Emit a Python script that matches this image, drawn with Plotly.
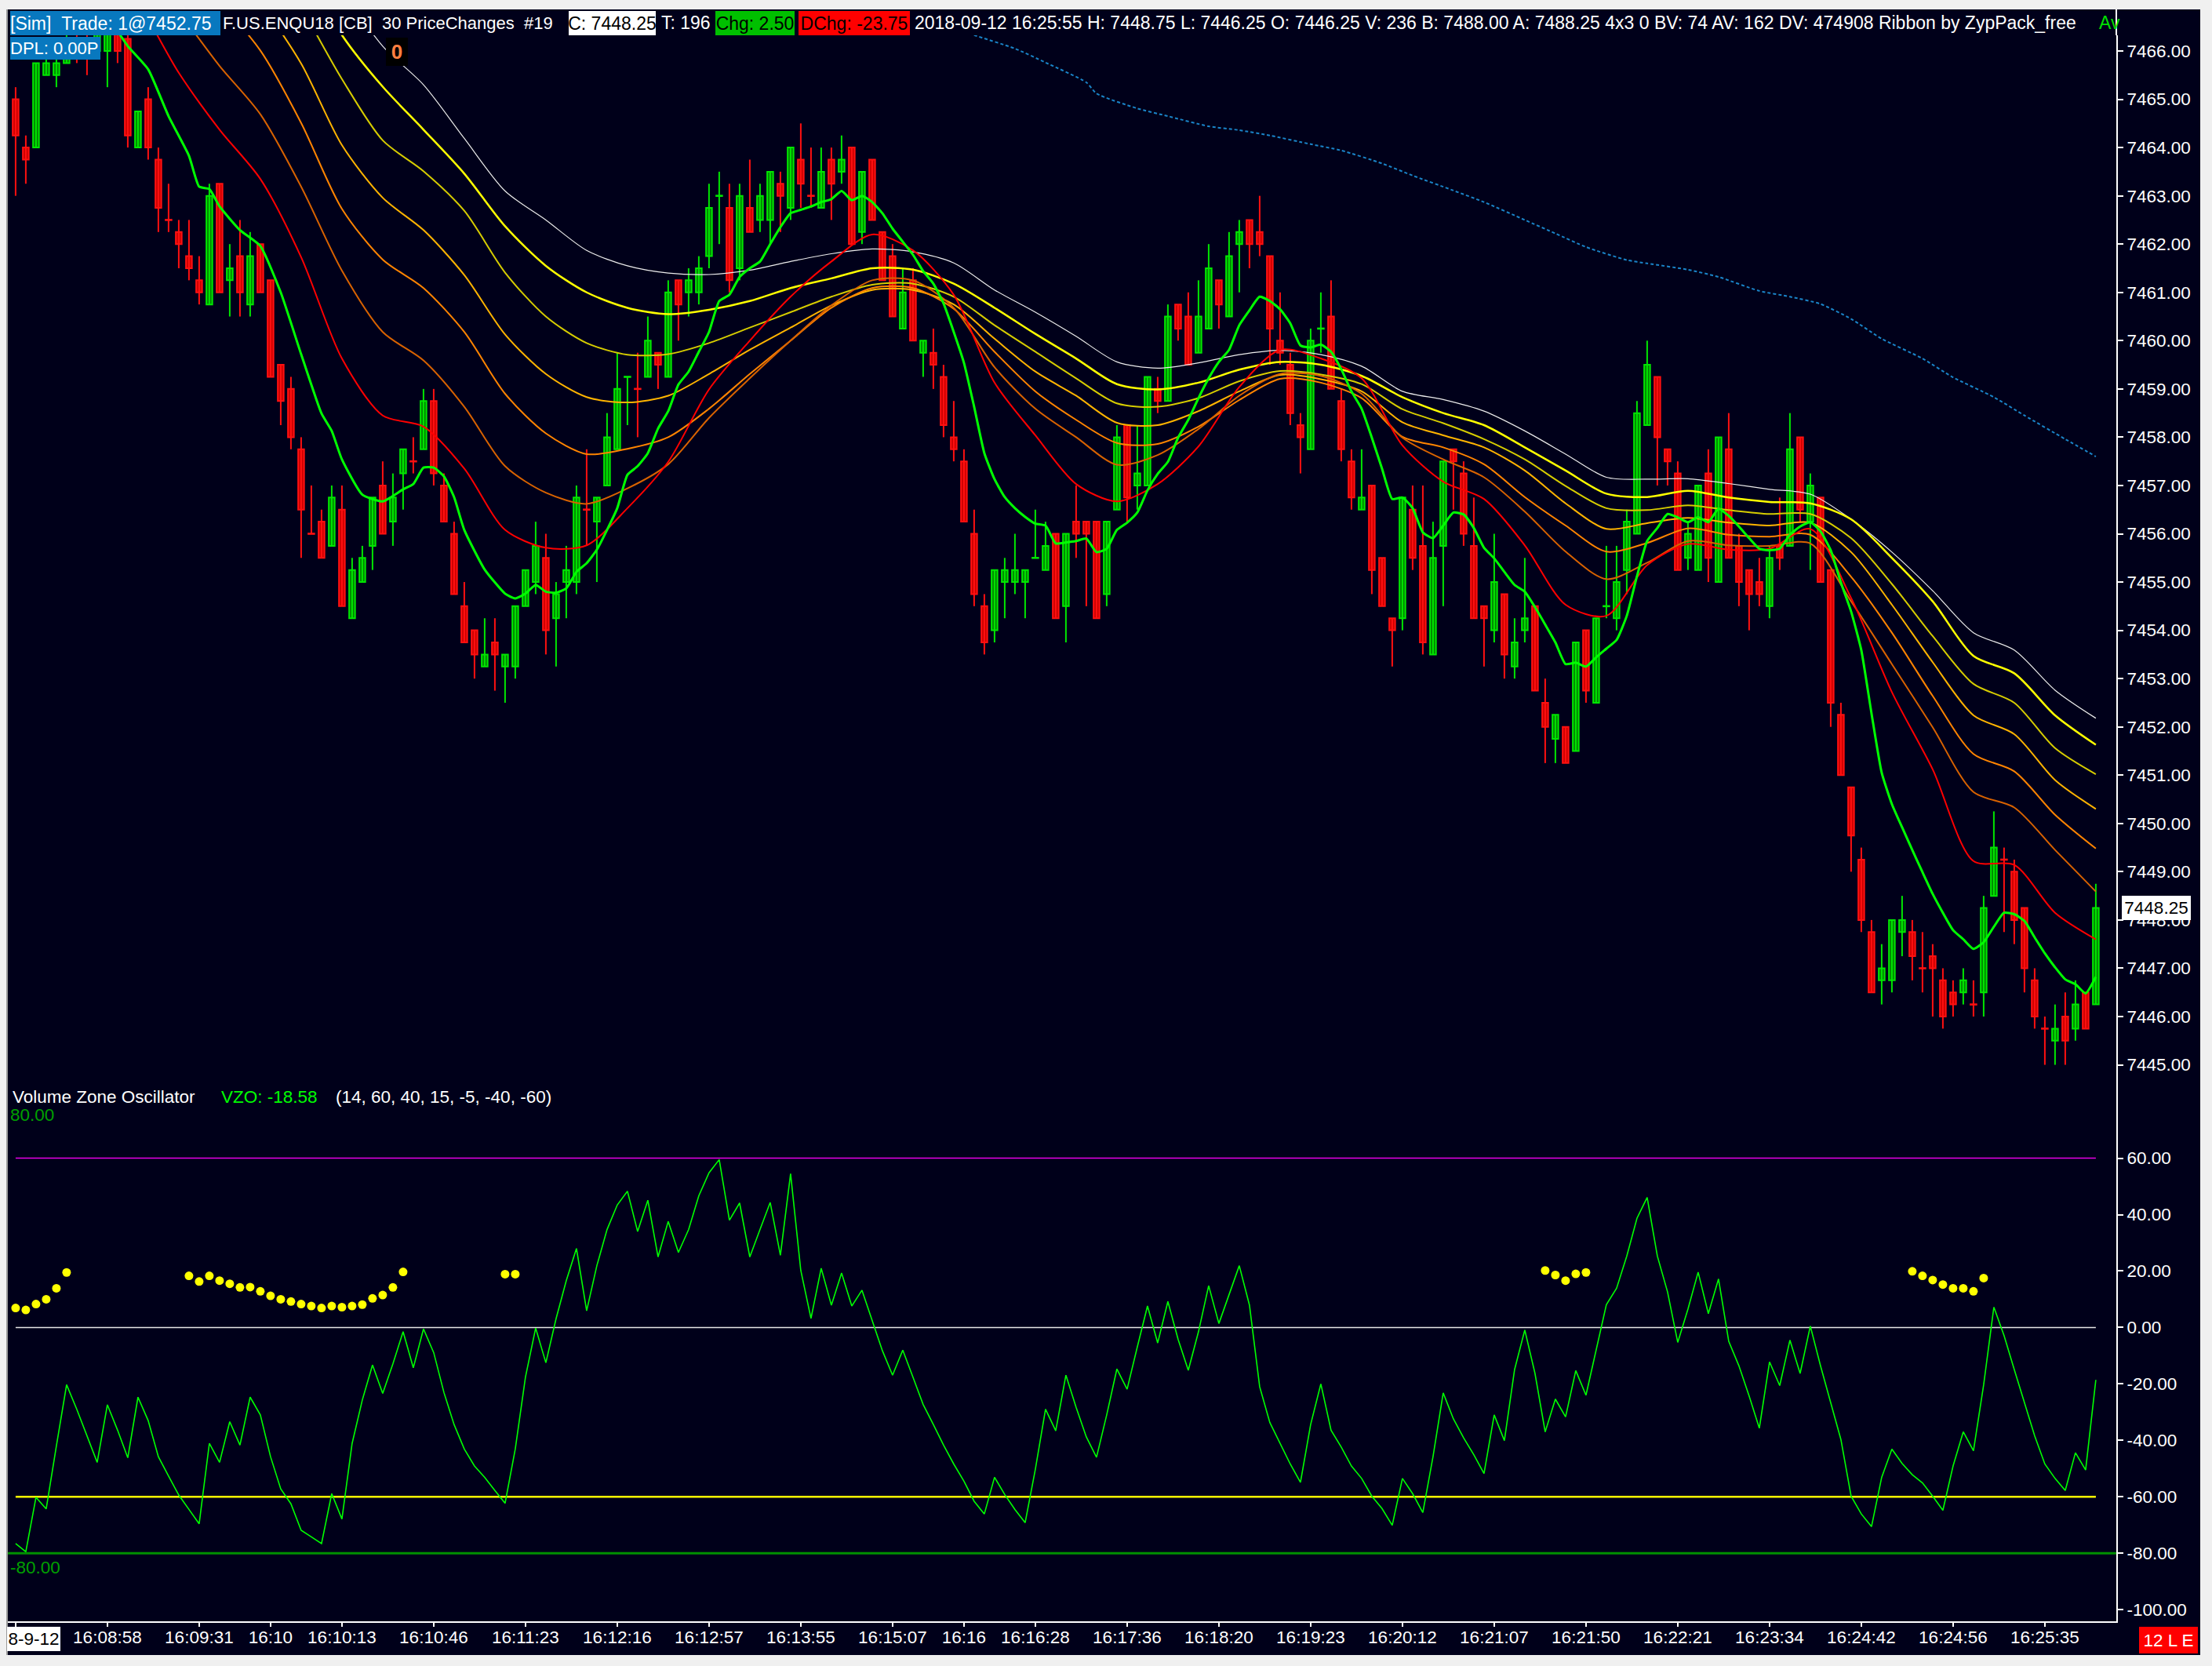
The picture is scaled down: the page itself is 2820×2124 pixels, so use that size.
import plotly.graph_objects as go

FONT = "Liberation Sans, Arial, sans-serif"
NAVY = "#00001a"

# ---------------- price bars (index 0..204) ----------------
opens = [7465.0, 7464.0, 7464.0, 7465.5, 7465.5, 7465.75, 7466.25, 7466.25, 7466.0, 7466.0,
         7466.5, 7466.25, 7464.0, 7465.0, 7463.75, 7462.5, 7462.25, 7461.75, 7461.25, 7460.75,
         7463.25, 7461.25, 7461.75, 7460.75, 7462.0, 7461.25, 7459.5, 7459.0, 7457.75, 7456.0,
         7456.25, 7455.75, 7456.5, 7454.25, 7455.0, 7455.75, 7457.0, 7456.25, 7457.25, 7457.5,
         7457.75, 7458.75, 7457.0, 7456.0, 7454.5, 7454.0, 7453.25, 7453.75, 7453.25, 7453.25,
         7454.5, 7455.0, 7455.5, 7454.25, 7455.0, 7455.0, 7456.5, 7456.25, 7457.0, 7457.75,
         7459.25, 7459.0, 7459.25, 7459.75, 7459.25, 7461.25, 7461.0, 7461.0, 7461.75, 7463.0,
         7462.75, 7461.5, 7462.75, 7462.5, 7462.5, 7463.25, 7462.75, 7463.75, 7463.0, 7462.75,
         7463.75, 7463.5, 7464.0, 7462.25, 7463.75, 7462.25, 7461.75, 7460.25, 7461.25, 7459.75,
         7459.75, 7459.25, 7458.0, 7457.5, 7456.0, 7454.5, 7454.0, 7455.0, 7455.0, 7455.0,
         7455.5, 7455.25, 7456.0, 7454.5, 7456.25, 7456.25, 7456.25, 7454.75, 7456.5, 7458.25,
         7457.0, 7457.0, 7459.0, 7458.75, 7460.75, 7460.5, 7459.75, 7460.25, 7461.25, 7460.5,
         7462.0, 7462.5, 7462.25, 7461.75, 7460.0, 7459.5, 7458.25, 7457.75, 7460.25, 7460.5,
         7458.75, 7457.5, 7456.5, 7457.0, 7455.5, 7454.25, 7454.25, 7456.5, 7455.75, 7453.5,
         7455.75, 7457.75, 7457.25, 7455.75, 7454.5, 7454.0, 7454.75, 7453.25, 7454.0, 7454.5,
         7452.5, 7451.75, 7452.0, 7451.5, 7454.0, 7452.5, 7454.5, 7454.25, 7455.25, 7456.0,
         7458.25, 7459.25, 7457.75, 7457.25, 7455.5, 7455.25, 7457.25, 7455.0, 7457.75, 7455.75,
         7455.25, 7455.0, 7454.5, 7455.75, 7455.75, 7458.0, 7456.25, 7456.75, 7455.25, 7452.25,
         7450.75, 7449.25, 7447.75, 7446.75, 7446.75, 7447.75, 7447.75, 7447.0, 7447.25, 7446.75,
         7446.5, 7446.5, 7446.25, 7446.5, 7448.5, 7449.25, 7449.0, 7448.25, 7446.75, 7445.75,
         7445.5, 7446.0, 7445.75, 7446.5, 7446.25]
highs = [7465.25, 7464.25, 7465.75, 7466.25, 7466.0, 7466.5, 7466.5, 7466.5, 7466.75, 7466.75,
         7466.75, 7466.5, 7464.75, 7465.25, 7464.0, 7463.25, 7462.5, 7462.5, 7461.75, 7463.25,
         7463.25, 7462.0, 7462.5, 7462.25, 7462.0, 7461.25, 7459.5, 7459.25, 7458.0, 7457.0,
         7456.5, 7457.0, 7457.0, 7455.5, 7455.75, 7456.75, 7457.5, 7457.25, 7457.75, 7458.0,
         7459.0, 7459.0, 7457.25, 7456.25, 7455.0, 7454.0, 7454.25, 7454.25, 7453.5, 7454.5,
         7455.25, 7456.25, 7456.0, 7455.0, 7455.75, 7457.0, 7457.75, 7456.75, 7458.5, 7459.75,
         7459.25, 7459.75, 7460.5, 7459.75, 7461.25, 7461.25, 7461.5, 7461.75, 7463.25, 7463.5,
         7463.25, 7463.25, 7463.75, 7463.25, 7463.5, 7463.5, 7464.0, 7464.5, 7464.0, 7464.0,
         7464.0, 7464.25, 7464.0, 7463.5, 7463.75, 7462.25, 7462.0, 7461.5, 7461.5, 7460.0,
         7460.25, 7459.5, 7458.75, 7457.75, 7456.5, 7454.75, 7455.25, 7455.5, 7456.0, 7455.25,
         7456.5, 7456.25, 7456.0, 7456.0, 7457.0, 7456.25, 7456.25, 7456.25, 7458.25, 7458.25,
         7458.25, 7459.25, 7459.25, 7460.75, 7460.75, 7461.0, 7461.25, 7462.0, 7461.25, 7462.25,
         7462.5, 7462.5, 7463.0, 7461.75, 7461.0, 7459.75, 7458.5, 7460.25, 7461.0, 7461.25,
         7459.0, 7457.75, 7457.75, 7457.0, 7455.5, 7454.25, 7456.75, 7457.0, 7457.0, 7456.25,
         7457.5, 7457.75, 7457.5, 7456.75, 7454.5, 7456.0, 7454.75, 7454.25, 7455.5, 7454.5,
         7453.0, 7452.25, 7452.0, 7453.75, 7454.0, 7454.25, 7455.75, 7455.75, 7456.5, 7458.75,
         7460.0, 7459.25, 7457.75, 7457.5, 7456.25, 7457.0, 7457.75, 7458.0, 7458.5, 7456.0,
         7455.25, 7455.5, 7455.75, 7456.75, 7458.5, 7458.0, 7457.25, 7456.75, 7455.25, 7452.5,
         7450.75, 7449.5, 7448.0, 7447.5, 7448.0, 7448.5, 7448.0, 7447.75, 7447.5, 7447.0,
         7446.75, 7447.0, 7446.75, 7448.5, 7450.25, 7449.5, 7449.25, 7448.25, 7447.0, 7446.0,
         7446.25, 7446.5, 7446.75, 7446.5, 7448.75]
lows = [7463.0, 7463.25, 7464.0, 7465.5, 7465.25, 7465.75, 7465.75, 7465.5, 7466.0, 7465.25,
        7465.75, 7464.0, 7464.0, 7463.75, 7462.25, 7462.25, 7461.5, 7461.25, 7460.75, 7460.75,
        7461.0, 7460.5, 7460.5, 7460.5, 7461.0, 7459.25, 7458.25, 7457.75, 7455.5, 7456.0,
        7455.5, 7455.75, 7454.5, 7454.25, 7455.0, 7455.25, 7456.0, 7455.75, 7456.5, 7457.25,
        7457.75, 7457.0, 7456.25, 7454.75, 7453.75, 7453.0, 7453.25, 7452.75, 7452.5, 7453.0,
        7454.5, 7454.75, 7453.5, 7453.25, 7454.25, 7454.75, 7455.75, 7455.0, 7457.0, 7457.75,
        7458.25, 7458.0, 7459.25, 7459.0, 7459.25, 7460.0, 7460.5, 7460.75, 7461.5, 7462.0,
        7461.0, 7461.25, 7462.25, 7462.25, 7462.0, 7462.25, 7462.5, 7462.75, 7462.75, 7462.75,
        7462.5, 7463.25, 7462.0, 7462.0, 7462.5, 7461.25, 7460.5, 7460.25, 7460.0, 7459.25,
        7459.0, 7458.0, 7457.5, 7456.25, 7454.5, 7453.5, 7453.75, 7454.25, 7454.75, 7454.25,
        7455.5, 7455.25, 7454.25, 7453.75, 7455.5, 7454.5, 7454.25, 7454.5, 7456.5, 7456.25,
        7456.5, 7457.0, 7458.5, 7458.75, 7460.0, 7459.5, 7459.75, 7460.25, 7460.25, 7460.5,
        7461.0, 7461.5, 7461.75, 7459.5, 7459.5, 7458.25, 7457.25, 7457.75, 7459.75, 7459.0,
        7457.5, 7456.5, 7456.5, 7454.75, 7454.5, 7453.25, 7454.0, 7455.25, 7453.5, 7453.5,
        7454.5, 7456.5, 7455.75, 7454.25, 7453.25, 7453.75, 7453.0, 7453.0, 7453.75, 7452.75,
        7451.25, 7451.25, 7451.25, 7451.5, 7452.5, 7452.5, 7454.25, 7454.0, 7454.75, 7456.0,
        7458.25, 7457.0, 7457.0, 7455.25, 7455.25, 7455.25, 7455.0, 7455.0, 7455.5, 7454.5,
        7454.0, 7454.5, 7454.25, 7455.25, 7455.75, 7456.25, 7455.25, 7455.0, 7452.0, 7451.0,
        7449.0, 7447.75, 7446.5, 7446.25, 7446.5, 7447.25, 7446.75, 7446.5, 7446.0, 7445.75,
        7446.0, 7446.25, 7446.0, 7446.0, 7448.5, 7447.75, 7447.5, 7446.5, 7445.75, 7445.0,
        7445.0, 7445.0, 7445.5, 7445.75, 7446.25]
closes = [7464.25, 7463.75, 7465.75, 7465.75, 7465.75, 7466.25, 7466.0, 7466.0, 7466.5, 7466.5,
          7466.0, 7464.25, 7464.75, 7464.0, 7462.75, 7462.5, 7462.0, 7461.5, 7461.0, 7463.0,
          7461.0, 7461.5, 7461.0, 7461.75, 7461.0, 7459.25, 7458.75, 7458.0, 7456.5, 7456.0,
          7455.5, 7456.75, 7454.5, 7455.25, 7455.5, 7456.75, 7456.0, 7456.75, 7457.75, 7457.5,
          7458.75, 7457.25, 7456.25, 7454.75, 7453.75, 7453.5, 7453.5, 7453.5, 7453.5, 7454.5,
          7455.25, 7455.75, 7454.0, 7454.75, 7455.25, 7456.75, 7456.5, 7456.75, 7458.0, 7459.0,
          7459.25, 7459.0, 7460.0, 7459.5, 7461.0, 7460.75, 7461.25, 7461.5, 7462.75, 7463.0,
          7461.25, 7463.0, 7462.25, 7463.0, 7463.5, 7463.0, 7464.0, 7463.25, 7463.0, 7463.5,
          7463.25, 7463.75, 7462.0, 7463.5, 7462.5, 7461.25, 7460.5, 7461.0, 7460.0, 7460.0,
          7459.5, 7458.25, 7457.75, 7456.25, 7454.75, 7453.75, 7455.25, 7455.25, 7455.25, 7455.25,
          7455.5, 7455.75, 7454.25, 7456.0, 7456.0, 7456.0, 7454.25, 7456.25, 7458.0, 7456.75,
          7457.25, 7459.25, 7458.75, 7460.5, 7460.25, 7459.5, 7460.5, 7461.5, 7460.75, 7461.75,
          7462.25, 7462.0, 7462.0, 7460.25, 7459.75, 7458.5, 7458.0, 7460.0, 7460.25, 7459.0,
          7457.75, 7456.75, 7456.75, 7455.25, 7454.5, 7454.0, 7456.75, 7455.5, 7453.75, 7455.5,
          7457.5, 7457.5, 7456.0, 7454.25, 7454.25, 7455.0, 7453.5, 7453.75, 7454.25, 7452.75,
          7452.0, 7452.25, 7451.25, 7453.75, 7452.75, 7454.25, 7454.5, 7455.0, 7456.25, 7458.5,
          7459.5, 7458.0, 7457.5, 7455.25, 7456.0, 7457.0, 7455.5, 7458.0, 7455.5, 7455.0,
          7454.75, 7454.75, 7455.5, 7455.5, 7457.75, 7456.5, 7457.0, 7455.0, 7452.5, 7451.0,
          7449.75, 7448.0, 7446.5, 7447.0, 7448.0, 7448.0, 7447.25, 7447.0, 7447.0, 7446.0,
          7446.25, 7446.75, 7446.25, 7448.25, 7449.5, 7449.25, 7448.0, 7447.0, 7446.0, 7445.75,
          7445.75, 7445.5, 7446.25, 7445.75, 7448.25]
green_doji_bars = [60, 69, 100, 128, 156]

# ---------------- ribbon (moving averages), read every 4 bars ----------------
rib_bars = [0, 4, 8, 12, 16, 20, 24, 28, 32, 36, 40, 44, 48, 52, 56, 60, 64, 68, 72, 76,
            80, 84, 88, 92, 96, 100, 104, 108, 112, 116, 120, 124, 128, 132, 136, 140, 144,
            148, 152, 156, 160, 164, 168, 172, 176, 180, 184, 188, 192, 196, 200, 204]
ma_red = [7470.0, 7469.0, 7468.0, 7467.0, 7465.55, 7464.37, 7463.35, 7461.73, 7459.63, 7458.45,
          7458.22, 7457.35, 7456.08, 7455.71, 7455.76, 7456.53, 7457.49, 7458.99, 7460.0, 7460.91,
          7461.64, 7462.2, 7461.87, 7460.95, 7459.13, 7458.04, 7457.03, 7456.67, 7457.03, 7457.81,
          7459.04, 7459.81, 7459.63, 7459.22, 7457.83, 7457.08, 7456.72, 7455.76, 7454.53, 7454.3,
          7455.35, 7455.79, 7455.67, 7455.69, 7456.1, 7454.67, 7452.72, 7451.12, 7449.22, 7449.14,
          7448.15, 7447.6]
ma_darkorange = [7470.5, 7469.5, 7468.6, 7467.7, 7466.8, 7465.69, 7464.69, 7463.19, 7461.45, 7460.18,
                 7459.59, 7458.63, 7457.4, 7456.85, 7456.62, 7456.94, 7457.44, 7458.4, 7459.22, 7460.0,
                 7460.73, 7461.25, 7461.25, 7460.68, 7459.45, 7458.59, 7458.0, 7457.43, 7457.63, 7458.17,
                 7458.86, 7459.31, 7459.27, 7458.9, 7457.99, 7457.54, 7457.17, 7456.46, 7455.63, 7455.06,
                 7455.4, 7455.85, 7455.76, 7455.75, 7455.8, 7454.6, 7453.3, 7451.99, 7450.65, 7450.33,
                 7449.45, 7448.59]
ma_orange = [7471.0, 7470.2, 7469.4, 7468.6, 7467.8, 7467.0, 7466.01, 7464.51, 7462.73, 7461.68,
             7461.09, 7460.18, 7458.9, 7458.08, 7457.65, 7457.76, 7458.0, 7458.59, 7459.31, 7460.0,
             7460.68, 7461.09, 7461.09, 7460.66, 7459.77, 7458.95, 7458.36, 7457.88, 7457.86, 7458.22,
             7458.77, 7459.21, 7459.13, 7458.81, 7458.01, 7457.79, 7457.44, 7456.76, 7456.17, 7455.63,
             7455.81, 7456.11, 7455.98, 7455.94, 7455.98, 7455.11, 7453.95, 7452.64, 7451.44, 7451.08,
             7450.18, 7449.48]
ma_gold = [7472.0, 7471.2, 7470.4, 7469.6, 7468.8, 7468.0, 7467.0, 7465.74, 7464.05, 7462.96,
           7462.29, 7461.36, 7460.13, 7459.31, 7458.83, 7458.72, 7458.86, 7459.31, 7459.81, 7460.27,
           7460.73, 7461.05, 7461.05, 7460.75, 7460.04, 7459.36, 7458.86, 7458.3, 7458.25, 7458.54,
           7458.95, 7459.29, 7459.2, 7458.95, 7458.31, 7458.04, 7457.79, 7457.31, 7456.63, 7456.1,
           7456.22, 7456.33, 7456.23, 7456.17, 7456.23, 7455.62, 7454.53, 7453.34, 7452.24, 7451.85,
           7450.9, 7450.3]
ma_olive = [7473.0, 7472.2, 7471.4, 7470.6, 7469.8, 7469.0, 7468.2, 7466.9, 7465.42, 7464.15,
            7463.51, 7462.69, 7461.41, 7460.5, 7459.95, 7459.71, 7459.72, 7459.95, 7460.27, 7460.59,
            7460.91, 7461.16, 7461.18, 7460.91, 7460.32, 7459.77, 7459.22, 7458.7, 7458.63, 7458.81,
            7459.16, 7459.37, 7459.3, 7459.1, 7458.58, 7458.29, 7457.96, 7457.54, 7456.99, 7456.53,
            7456.49, 7456.59, 7456.49, 7456.41, 7456.41, 7455.91, 7454.96, 7453.88, 7452.89, 7452.5,
            7451.56, 7451.02]
ma_yellow = [7474.0, 7473.2, 7472.4, 7471.6, 7470.8, 7470.0, 7469.2, 7467.8, 7466.33, 7465.26,
             7464.37, 7463.46, 7462.37, 7461.55, 7461.0, 7460.68, 7460.55, 7460.64, 7460.82, 7461.09,
             7461.29, 7461.5, 7461.47, 7461.18, 7460.68, 7460.14, 7459.63, 7459.1, 7458.99, 7459.13,
             7459.4, 7459.56, 7459.5, 7459.27, 7458.83, 7458.5, 7458.25, 7457.79, 7457.31, 7456.83,
             7456.76, 7456.89, 7456.75, 7456.66, 7456.63, 7456.3, 7455.5, 7454.6, 7453.47, 7453.11,
             7452.24, 7451.63]
ma_white = [7475.0, 7474.2, 7473.4, 7472.6, 7471.8, 7471.0, 7470.0, 7468.8, 7467.3, 7466.1,
            7465.3, 7464.19, 7463.1, 7462.5, 7461.87, 7461.55, 7461.4, 7461.37, 7461.46, 7461.64,
            7461.8, 7461.9, 7461.84, 7461.61, 7461.05, 7460.59, 7460.09, 7459.56, 7459.43, 7459.54,
            7459.71, 7459.8, 7459.71, 7459.47, 7458.95, 7458.78, 7458.54, 7458.13, 7457.65, 7457.17,
            7457.13, 7457.14, 7457.04, 7456.92, 7456.82, 7456.3, 7455.62, 7454.82, 7453.95, 7453.59,
            7452.76, 7452.18]

fast_bars = [0, 5, 9, 10, 11, 13, 15, 17, 18, 19, 20, 22, 24, 26, 28, 30, 31, 32, 34, 36, 38, 39,
             40, 41, 42, 43, 44, 46, 48, 49, 50, 51, 52] + list(range(53, 205))
fast_vals = [7467.0, 7466.8, 7466.55, 7466.4, 7466.1, 7465.62, 7464.65, 7463.83, 7463.19, 7463.14,
             7462.78, 7462.29, 7461.96, 7461.0, 7459.72, 7458.49, 7458.13, 7457.54, 7456.81, 7456.67,
             7456.92, 7457.03, 7457.37, 7457.37, 7457.19, 7456.76, 7456.08, 7455.26, 7454.76, 7454.66,
             7454.76, 7454.94, 7454.8,
             7454.78, 7454.87, 7455.21, 7455.39, 7455.67, 7456.08, 7456.53, 7457.22, 7457.4, 7457.67,
             7458.18, 7458.54, 7459.09, 7459.36, 7459.77, 7460.18, 7460.82, 7460.95, 7461.32, 7461.5,
             7461.64, 7462.0, 7462.35, 7462.64, 7462.71, 7462.78, 7462.87, 7462.93, 7463.1, 7462.91,
             7463.0, 7462.87, 7462.64, 7462.32, 7462.05, 7461.78, 7461.44, 7461.18, 7460.77, 7460.18,
             7459.54, 7458.63, 7457.67, 7457.13, 7456.76, 7456.53, 7456.35, 7456.21, 7456.17, 7455.8,
             7455.82, 7455.85, 7455.9, 7455.62, 7455.69, 7456.08, 7456.23, 7456.44, 7456.9, 7457.24,
             7457.49, 7457.99, 7458.36, 7458.81, 7459.22, 7459.56, 7459.81, 7460.32, 7460.63, 7460.91,
             7460.82, 7460.65, 7460.36, 7459.9, 7459.86, 7459.92, 7459.77, 7459.41, 7458.95, 7458.59,
             7457.99, 7457.35, 7456.72, 7456.75, 7456.53, 7456.03, 7455.91, 7456.17, 7456.44, 7456.4,
             7456.12, 7455.71, 7455.49, 7455.21, 7454.94, 7454.8, 7454.48, 7454.12, 7453.75, 7453.3,
             7453.33, 7453.25, 7453.44, 7453.62, 7453.8, 7454.3, 7455.12, 7455.85, 7456.12, 7456.41,
             7456.34, 7456.24, 7456.34, 7456.24, 7456.52, 7456.37, 7456.15, 7455.91, 7455.69, 7455.66,
             7455.69, 7455.98, 7456.15, 7456.24, 7456.05, 7455.66, 7454.99, 7454.39, 7453.59, 7452.28,
             7451.05, 7450.4, 7449.92, 7449.45, 7448.99, 7448.54, 7448.15, 7447.79, 7447.6, 7447.4,
             7447.54, 7447.86, 7448.15, 7448.12, 7447.98, 7447.64, 7447.31, 7447.02, 7446.77, 7446.67,
             7446.48, 7446.82]

sma_bars = [92, 94, 98, 101, 105, 106, 110, 113, 117, 120, 123, 127, 130, 134, 137, 141, 144, 148,
            151, 154, 158, 160, 164, 167, 171, 174, 177, 180, 183, 187, 190, 194, 197, 201, 204]
sma_vals = [7466.5, 7466.33, 7466.05, 7465.76, 7465.35, 7465.12, 7464.81, 7464.65, 7464.44, 7464.36,
            7464.25, 7464.07, 7463.94, 7463.67, 7463.42, 7463.11, 7462.87, 7462.5, 7462.22, 7461.94,
            7461.67, 7461.6, 7461.47, 7461.32, 7461.03, 7460.91, 7460.76, 7460.45, 7460.04, 7459.63,
            7459.24, 7458.83, 7458.45, 7457.96, 7457.6]

# ---------------- Volume Zone Oscillator ----------------
vzo = [-76.6, -79.5, -60.2, -64.3, -42.0, -20.3, -29.0, -38.4, -47.8, -27.4,
       -36.4, -46.2, -24.7, -33.0, -45.8, -52.7, -59.4, -64.5, -69.6, -41.1,
       -47.8, -33.4, -41.7, -24.7, -31.0, -45.8, -57.2, -62.5, -71.9, -74.2,
       -76.6, -58.9, -67.9, -41.1, -25.7, -13.3, -23.4, -12.9, -1.5, -14.3,
       -0.5, -8.9, -23.0, -34.4, -43.1, -49.1, -53.1, -57.8, -62.3, -43.1,
       -17.6, -0.2, -12.5, 3.1, 16.6, 28.0, 5.9, 21.9, 34.7, 43.4,
       48.3, 34.0, 45.1, 25.0, 37.6, 26.6, 34.7, 46.7, 54.8, 59.5,
       38.0, 44.1, 25.0, 34.7, 44.3, 25.6, 54.5, 20.2, 3.2, 21.0,
       7.9, 19.3, 7.6, 13.2, 2.5, -8.2, -16.9, -8.0, -17.6, -27.3,
       -34.4, -41.7, -48.4, -54.5, -61.6, -66.1, -53.1, -59.2, -64.5, -69.2,
       -50.3, -29.0, -36.6, -16.9, -28.3, -38.8, -46.0, -31.0, -14.7, -21.9,
       -6.9, 7.6, -5.5, 9.2, -4.2, -15.2, -1.5, 14.8, 1.4, 11.9,
       21.9, 7.9, -21.0, -33.7, -41.1, -48.4, -54.9, -34.4, -20.0, -36.4,
       -42.4, -49.1, -53.5, -59.8, -64.2, -70.1, -53.5, -58.9, -65.6, -45.8,
       -23.2, -32.4, -39.1, -45.1, -51.8, -31.0, -40.1, -14.9, -0.9, -16.3,
       -37.0, -25.4, -31.7, -15.3, -24.0, -8.2, 8.1, 13.9, 25.3, 38.7,
       46.1, 25.3, 12.6, -5.3, 6.5, 19.6, 4.9, 17.2, -4.9, -13.6,
       -24.3, -35.7, -12.2, -20.6, -4.5, -16.3, 0.5, -13.6, -27.0, -39.7,
       -59.8, -66.1, -70.6, -53.1, -43.1, -48.2, -52.2, -55.1, -59.8, -64.8,
       -49.1, -37.0, -43.7, -20.3, 7.2, -2.9, -14.9, -27.0, -38.4, -48.4,
       -53.5, -57.8, -44.4, -50.5, -18.58]
dot_bars = [0, 1, 2, 3, 4, 5,
            17, 18, 19, 20, 21, 22, 23, 24, 25, 26, 27, 28, 29, 30, 31, 32, 33, 34, 35, 36, 37, 38,
            48, 49, 150, 151, 152, 153, 154, 186, 187, 188, 189, 190, 191, 192, 193]
dot_vals = [6.9, 6.2, 8.3, 10.0, 13.9, 19.5,
            18.3, 16.3, 18.3, 16.6, 15.5, 14.2, 14.3, 12.8, 11.2, 10.0, 9.2, 8.3, 7.6, 6.9, 7.6,
            7.2, 7.6, 8.1, 10.3, 11.5, 14.2, 19.7,
            18.9, 18.9, 20.2, 18.6, 16.6, 19.0, 19.5, 19.9, 18.3, 16.8, 15.2, 13.9, 13.9, 12.8, 17.5]
vzo_level_vals = [60, 0, -60]
vzo_level_colors = ["#e800e8", "#e6e6e6", "#ffff00"]
vzo_level_widths = [1.5, 1.5, 2.5]
vzo_floor = -80

time_tick_bars = [0, 9, 18, 25, 32, 41, 50, 59, 68, 77, 86, 93, 100, 109, 118, 127, 136, 145,
                  154, 163, 172, 181, 190, 199]
time_tick_labels = ["", "16:08:58", "16:09:31", "16:10", "16:10:13", "16:10:46", "16:11:23",
                    "16:12:16", "16:12:57", "16:13:55", "16:15:07", "16:16", "16:16:28", "16:17:36",
                    "16:18:20", "16:19:23", "16:20:12", "16:21:07", "16:21:50", "16:22:21",
                    "16:23:34", "16:24:42", "16:24:56", "16:25:35"]
price_ticks = [7445.0, 7446.0, 7447.0, 7448.0, 7449.0, 7450.0, 7451.0, 7452.0, 7453.0, 7454.0,
               7455.0, 7456.0, 7457.0, 7458.0, 7459.0, 7460.0, 7461.0, 7462.0, 7463.0, 7464.0,
               7465.0, 7466.0]
vzo_ticks = [-100, -80, -60, -40, -20, 0, 20, 40, 60]

# ---------------- geometry (pixels of the 2820x2124 page) ----------------
W, H = 2820, 2124
PL, PR, PT, PB = 10, 2698, 45, 2067
SPLIT_Y = 1385


def px(X):
    return (X - PL) / (PR - PL)


def py(Y):
    return (PB - Y) / (PB - PT)


SPLIT = py(SPLIT_Y)
x_range = [(PL - 19.9) / 13.0, (PR - 19.9) / 13.0]
price_range = [7466.0 - (SPLIT_Y - 65) / 61.55, 7466.0 + (65 - PT) / 61.55]
vzo_range = [(1692.4 - PB) / 3.597, (1692.4 - SPLIT_Y) / 3.597]

fig = go.Figure()

# candles: wicks then bodies
n = len(opens)
wx = {True: [], False: []}
wy = {True: [], False: []}
base, height, fills, edges = [], [], [], []
for i in range(n):
    o, c = opens[i], closes[i]
    up = c > o or (c == o and i in green_doji_bars)
    wx[up] += [i, i, None]
    wy[up] += [lows[i], highs[i], None]
    lo_b, hi_b = min(o, c), max(o, c)
    if hi_b - lo_b < 0.01:
        lo_b -= 0.005
        hi_b = lo_b + 0.01
    base.append(lo_b)
    height.append(hi_b - lo_b)
    fills.append("#008400" if up else "#cc0000")
    edges.append("#00e600" if up else "#ff1010")

for up, col in [(True, "#00e600"), (False, "#ff1010")]:
    fig.add_trace(go.Scatter(x=wx[up], y=wy[up], mode="lines", line=dict(color=col, width=2),
                             xaxis="x", yaxis="y", hoverinfo="skip"))
fig.add_trace(go.Bar(x=list(range(n)), y=height, base=base, width=0.58,
                     marker=dict(color=fills, line=dict(color=edges, width=2)),
                     xaxis="x", yaxis="y", hoverinfo="skip"))

# long average (dotted blue)
fig.add_trace(go.Scatter(x=sma_bars, y=sma_vals, mode="lines",
                         line=dict(color="#1a84c8", width=2, dash="4px,3px", shape="spline",
                                   smoothing=0.6),
                         xaxis="x", yaxis="y", hoverinfo="skip"))

# ribbon
ribbon = [(ma_white, "#ececec", 1.2), (ma_yellow, "#ffff00", 2.5), (ma_olive, "#d6cc00", 2),
          (ma_gold, "#ffb400", 2), (ma_orange, "#ff8400", 2), (ma_darkorange, "#d86200", 2),
          (ma_red, "#ff0000", 2)]
for vals, col, w in ribbon:
    fig.add_trace(go.Scatter(x=rib_bars, y=vals, mode="lines",
                             line=dict(color=col, width=w, shape="spline", smoothing=0.8),
                             xaxis="x", yaxis="y", hoverinfo="skip"))
fig.add_trace(go.Scatter(x=fast_bars, y=fast_vals, mode="lines",
                         line=dict(color="#00ff00", width=3, shape="spline", smoothing=0.5),
                         xaxis="x", yaxis="y", hoverinfo="skip"))

# VZO pane
for v, col, w in zip(vzo_level_vals, vzo_level_colors, vzo_level_widths):
    fig.add_trace(go.Scatter(x=[0, n - 1], y=[v, v], mode="lines", line=dict(color=col, width=w),
                             xaxis="x", yaxis="y2", hoverinfo="skip"))
fig.add_trace(go.Scatter(x=list(range(n)), y=vzo, mode="lines", line=dict(color="#00ff00", width=1.6),
                         xaxis="x", yaxis="y2", hoverinfo="skip"))
fig.add_trace(go.Scatter(x=dot_bars, y=dot_vals, mode="markers",
                         marker=dict(color="#ffff00", size=11, line=dict(width=0)),
                         xaxis="x", yaxis="y2", hoverinfo="skip"))

# ---------------- text ----------------
anns = []


def label(text, X, Y=None, color="white", size=22.5, bg=None, w=None, h=None, align="left",
          yval=None, yref="paper"):
    d = dict(text=text, x=px(X), xref="paper", xanchor="left", yanchor="middle",
             showarrow=False, borderpad=0, borderwidth=0,
             font=dict(color=color, size=size, family=FONT))
    if yval is None:
        d["y"] = py(Y)
        d["yref"] = "paper"
    else:
        d["y"] = yval
        d["yref"] = yref
    if bg:
        d["bgcolor"] = bg
    if w:
        d["width"] = w
        d["align"] = align
    if h:
        d["height"] = h
    anns.append(d)


HY = 29.5
HS = 23
label("[Sim]\u00a0\u00a0Trade: 1@7452.75", 13, HY, size=HS, bg="#0878bf", w=268, h=31)
label("F.US.ENQU18 [CB]\u00a0\u00a030 PriceChanges\u00a0\u00a0#19", 284, HY, size=22)
label("C: 7448.25", 725, HY, color="black", size=HS, bg="#ffffff", w=111, h=31, align="center")
label("T: 196", 843, HY, size=HS)
label("Chg: 2.50", 912, HY, color="black", size=HS, bg="#00c000", w=101, h=31, align="center")
label("DChg: -23.75", 1018, HY, color="black", size=HS, bg="#ff0000", w=142, h=31, align="center")
label("2018-09-12 16:25:55 H: 7448.75 L: 7446.25 O: 7446.25 V: 236 B: 7488.00 A: 7488.25 "
      "4x3 0 BV: 74 AV: 162 DV: 474908 Ribbon by ZypPack_free", 1166, HY, size=HS)
label("Av", 2676, HY, color="#00e000", size=HS)
label("DPL: 0.00P", 13, 61.5, size=22, bg="#0878bf", w=115, h=29)
label("<b>0</b>", 492, 66, color="#ff7f40", size=26, bg="#000000", w=28, h=36, align="center")

label("Volume Zone Oscillator", 16, 1398)
label("VZO: -18.58", 282, 1398, color="#00ff00")
label("(14, 60, 40, 15, -5, -40, -60)", 428, 1398)
label("80.00", 13, 1421, color="#00a000")
label("-80.00", 13, 1998, color="#00a000")

label("8-9-12", 9, 2089.5, color="black", bg="#ffffff", w=68, h=31, align="center")
label("12 L E", 2727, 2091, bg="#ff0000", w=75, h=34, align="center")
label("7448.25", 2705, yval=closes[-1], yref="y", color="black", bg="#ffffff", w=88, h=31,
      align="center")

shapes = [
    dict(type="rect", xref="paper", yref="paper", x0=px(10), x1=px(2805), y0=py(2110), y1=py(12),
         fillcolor=NAVY, line=dict(width=0), layer="below"),
    dict(type="line", xref="paper", yref="paper", x0=px(9), x1=px(9), y0=py(2110), y1=py(12),
         line=dict(color="#9a9a9a", width=2)),
    dict(type="line", xref="paper", yref="paper", x0=1, x1=1, y0=py(PT), y1=py(12),
         line=dict(color="white", width=2)),
    dict(type="line", xref="paper", yref="y2", x0=0, x1=1, y0=vzo_floor, y1=vzo_floor,
         line=dict(color="#009000", width=3)),
]

axis_common = dict(showgrid=False, zeroline=False, showline=True, linecolor="white", linewidth=2,
                   ticks="outside", tickwidth=2, tickcolor="white",
                   tickfont=dict(color="white", size=22.5, family=FONT), fixedrange=True)

fig.update_layout(
    width=W, height=H, autosize=False,
    margin=dict(l=PL, r=W - PR, t=PT, b=H - PB, pad=0),
    paper_bgcolor="#f0f0f0", plot_bgcolor=NAVY,
    showlegend=False, hovermode=False, barmode="overlay",
    font=dict(family=FONT, color="white"),
    xaxis=dict(range=x_range, domain=[0, 1], anchor="y2", tickmode="array",
               tickvals=time_tick_bars, ticktext=time_tick_labels, ticklen=5,
               ticklabelstandoff=-6, **axis_common),
    yaxis=dict(range=price_range, domain=[SPLIT, 1], side="right", anchor="x", tickmode="array",
               tickvals=price_ticks, ticktext=[f"{v:.2f}" for v in price_ticks], ticklen=7,
               **axis_common),
    yaxis2=dict(range=vzo_range, domain=[0, SPLIT], side="right", anchor="x", tickmode="array",
                tickvals=vzo_ticks, ticktext=[f"{v:.2f}" for v in vzo_ticks], ticklen=7,
                **axis_common),
    annotations=anns, shapes=shapes,
)

fig.write_html("out.html", config={"displayModeBar": False},
               post_script="document.body.style.margin='0px';document.body.style.overflow='hidden';")
